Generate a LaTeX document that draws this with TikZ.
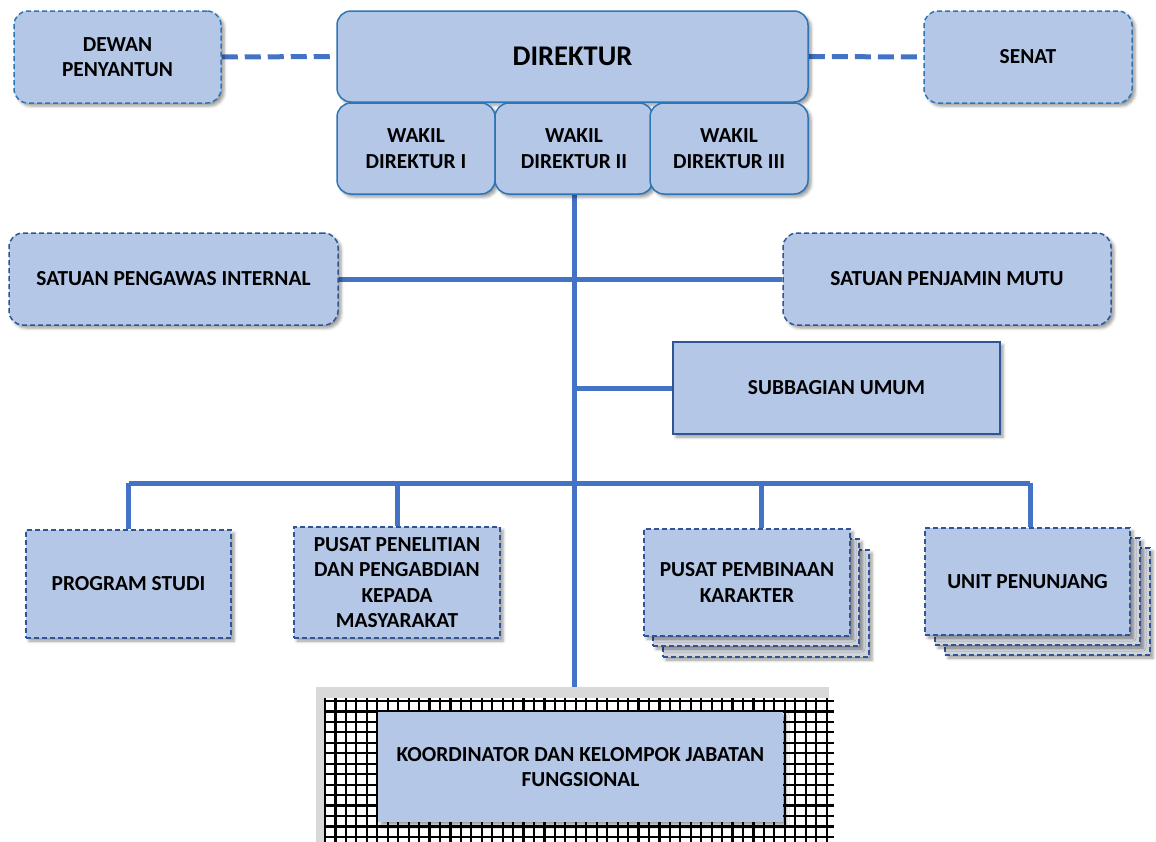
\documentclass[tikz,border=0pt]{standalone}
\usepackage{fontspec}
\setmainfont{Carlito}
\usetikzlibrary{shadows.blur,backgrounds}
\definecolor{boxfill}{HTML}{B4C7E7}
\definecolor{lineblue}{HTML}{4472C4}
\definecolor{bord}{HTML}{2E75B6}
\definecolor{dbord}{HTML}{2F5597}
\definecolor{backfill}{HTML}{D0D4DC}
\begin{document}
\begin{tikzpicture}[x=1pt,y=-1pt,
  base/.style={fill=boxfill, font=\bfseries\fontsize{21.4}{25.4}\selectfont, align=center, inner sep=0pt, line width=1.5pt,
    blur shadow={shadow xshift=3pt, shadow yshift=-3pt, shadow blur radius=3pt, shadow opacity=40}},
  rsolid/.style={base, draw=bord, rounded corners=14pt},
  rdash/.style={base, draw=bord, dash pattern=on 5pt off 3pt, rounded corners=14pt},
  rdashd/.style={base, draw=dbord, dash pattern=on 5pt off 3pt, rounded corners=14pt},
  sdash/.style={base, draw=dbord, dash pattern=on 5pt off 3pt},
  sback/.style={sdash, fill=backfill},
  ssolid/.style={base, draw=dbord},
  conn/.style={draw=lineblue, line width=5pt},
  dconn/.style={conn, dash pattern=on 16pt off 7pt}
]
\useasboundingbox (0,0) rectangle (1156,841);
% top row
\node[rdash, minimum width=207pt, minimum height=92pt] (dewan) at (117.5,57) {DEWAN\\PENYANTUN};
\node[rsolid, minimum width=471pt, minimum height=91pt, font=\bfseries\fontsize{28.5}{32}\selectfont] (dir) at (572.5,56.5) {DIREKTUR};
\node[rsolid, minimum width=158pt, minimum height=91pt] (w1) at (416,148.5) {WAKIL\\DIREKTUR I};
\node[rsolid, minimum width=158pt, minimum height=91pt] (w2) at (574,148.5) {WAKIL\\DIREKTUR II};
\node[rsolid, minimum width=158pt, minimum height=91pt] (w3) at (729,148.5) {WAKIL\\DIREKTUR III};
\node[rdash, minimum width=208pt, minimum height=92pt] (senat) at (1028,57) {SENAT};
% middle
\node[rdashd, minimum width=329pt, minimum height=92pt] (spi) at (173.5,279) {SATUAN PENGAWAS INTERNAL};
\node[rdashd, minimum width=328pt, minimum height=92pt] (spm) at (947,279) {SATUAN PENJAMIN MUTU};
\node[ssolid, minimum width=327pt, minimum height=92pt] (sub) at (836.5,388) {SUBBAGIAN UMUM};
% lower row
\node[sdash, minimum width=205pt, minimum height=108pt] (prodi) at (128.5,584) {PROGRAM STUDI};
\node[sdash, minimum width=206pt, minimum height=111pt] (ppm) at (397,582.5) {PUSAT PENELITIAN\\DAN PENGABDIAN\\KEPADA\\MASYARAKAT};
\node[sback, minimum width=206pt, minimum height=107pt] (pembC) at (766,603.5) {};
\node[sback, minimum width=206pt, minimum height=107pt] (pembB) at (756,592.5) {};
\node[sdash, minimum width=206pt, minimum height=107pt] (pemb) at (747,582.5) {PUSAT PEMBINAAN\\KARAKTER};
\node[sback, minimum width=205pt, minimum height=107pt] (unitC) at (1047.5,601.5) {};
\node[sback, minimum width=205pt, minimum height=107pt] (unitB) at (1037.5,591.5) {};
\node[sdash, minimum width=205pt, minimum height=107pt] (unit) at (1027.5,581.5) {UNIT PENUNJANG};
% bottom grid frame
\node[fill=black!15, minimum width=513pt, minimum height=160pt, inner sep=0pt] (frame) at (572.5,767) {};
\fill[white] (324,698) rectangle (834,845);
\begin{scope}
  \clip (324,698) rectangle (834,845);
  \foreach \i in {0,...,50} {\draw[black, line width=2.2pt] (325+\i*10.45,698) -- (325+\i*10.45,845);}
  \foreach \j in {0,...,15} {\draw[black, line width=2.2pt] (324,701+\j*10.45) -- (834,701+\j*10.45);}
\end{scope}
\node[base, draw=none, minimum width=405pt, minimum height=110pt] (koord) at (580.5,767) {KOORDINATOR DAN KELOMPOK JABATAN\\FUNGSIONAL};
% connectors
\coordinate (bus) at (575,483);
\coordinate (dropC) at (761,483);
\coordinate (dropD) at (1030,483);
\begin{scope}[on background layer]
  \draw[dconn] (dewan.east) -- (dir.west);
  \draw[dconn] (dir.east) -- (senat.west);
  \draw[conn] (w2.south) -- (w2.south |- frame.north);
  \draw[conn] (spi.east) -- (spm.west);
  \draw[conn] (w2.south |- sub.west) -- (sub.west);
  \draw[conn] (prodi.north |- bus) -- (dropD);
  \draw[conn] (prodi.north) -- (prodi.north |- bus);
  \draw[conn] (ppm.north) -- (ppm.north |- bus);
  \draw[conn] (pemb.north -| dropC) -- (dropC);
  \draw[conn] (unit.north -| dropD) -- (dropD);
\end{scope}
\end{tikzpicture}
\end{document}
